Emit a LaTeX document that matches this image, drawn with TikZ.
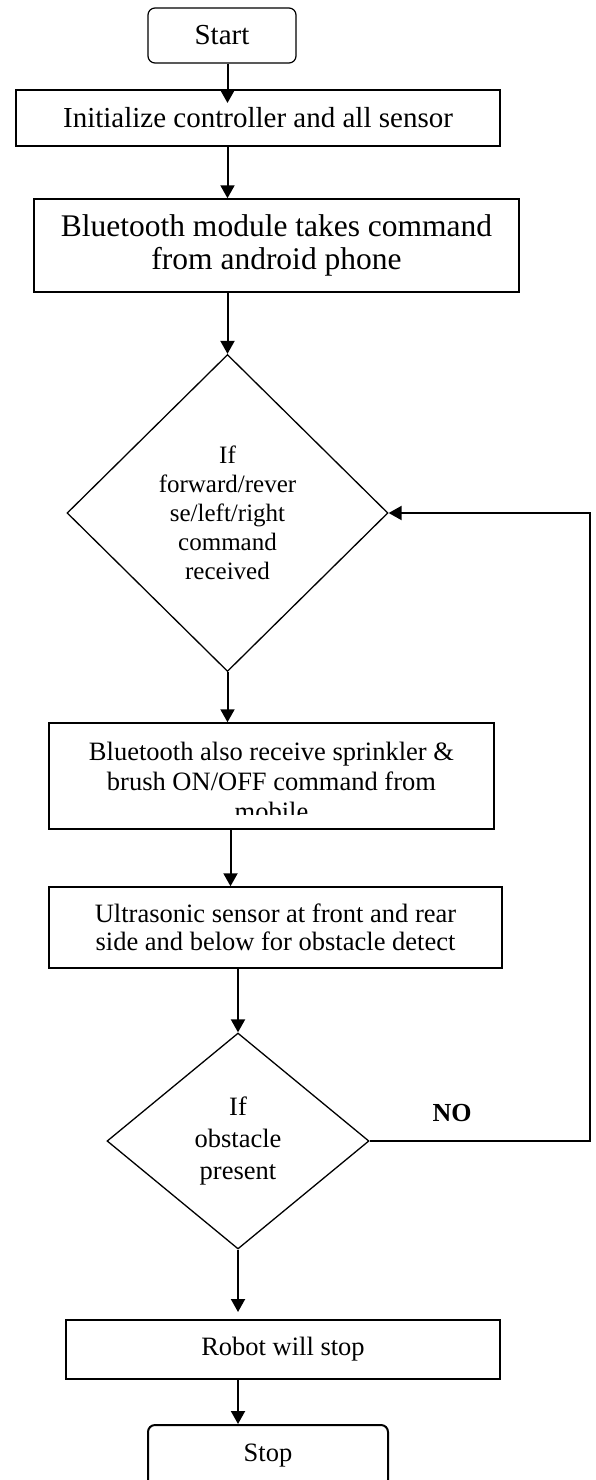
\documentclass[tikz,border=0pt]{standalone}
\usepackage{fontspec}
\setmainfont{Liberation Serif}
\usetikzlibrary{arrows.meta,shapes.geometric}
\begin{document}
\begin{tikzpicture}[x=1pt,y=-1pt,
  box/.style={draw,line width=1.5pt,inner sep=0pt,align=center},
  rbox/.style={box,rounded corners=7pt},
  dia/.style={draw,diamond,line width=1.3pt,inner sep=0pt,align=center},
  arr/.style={line width=2pt,-{Triangle[length=13pt,width=14pt]}},
  fA/.style={font=\fontsize{29}{33}\selectfont},
  fB/.style={font=\fontsize{31.5}{33}\selectfont},
  fC/.style={font=\fontsize{26.5}{30}\selectfont},
  fD/.style={font=\fontsize{25}{29}\selectfont}]
\useasboundingbox (0,0) rectangle (596,1480);
% nodes
\node[rbox,line width=1.2pt,minimum width=148pt,minimum height=55pt,fA] (start) at (222,35.5) {Start};
\node[box,line width=2pt,minimum width=484pt,minimum height=56pt,fA] (init) at (258,118) {Initialize controller and all sensor};
\node[box,minimum width=485pt,minimum height=93pt,fB] (bt) at (276.5,245.5) {Bluetooth module takes command\\from android phone};
\node[dia,minimum width=321pt,minimum height=317pt,fD] (d1) at (227.5,513) {If\\forward/rever\\se/left/right\\command\\received};
\node[box,minimum width=445pt,minimum height=106pt] (b3) at (271.5,776) {};
\begin{scope}
\clip (b3.north west) rectangle ([yshift=15pt]b3.south east);
\node[fC,align=center,inner sep=0pt] (b3t) at ([yshift=-5pt]b3.center) {Bluetooth also receive sprinkler \&\\brush ON/OFF command from\\mobile};
\end{scope}
\node[box,minimum width=453pt,minimum height=81pt,font=\fontsize{26.5}{28}\selectfont] (b4) at (275.5,927.5) {Ultrasonic sensor at front and rear\\side and below for obstacle detect};
\node[dia,minimum width=262pt,minimum height=216pt,font=\fontsize{26.5}{32}\selectfont] (d2) at (238,1141) {If\\obstacle\\present};
\node[box,line width=2pt,minimum width=434pt,minimum height=59pt,fC] (robot) at (283,1349.5) {Robot will stop};
\node[rbox,line width=2pt,minimum width=240pt,minimum height=62pt,fC] (stop) at (268,1456) {Stop};
\node[font=\fontsize{26}{29}\selectfont\bfseries] (no) at (452,1113) {NO};
\coordinate (lc) at (590,0);
% connectors
\draw[arr,shorten >=-14pt] (start.south -| d1.north) -- (init.north -| d1.north);
\draw[arr] (init.south -| d1.north) -- (bt.north -| d1.north);
\draw[arr] (bt.south -| d1.north) -- (d1.north);
\draw[arr] (d1.south) -- (b3.north -| d1.south);
\draw[arr] ([xshift=3pt]b3.south -| d1.south) -- ([xshift=3pt]b4.north -| d1.south);
\draw[arr] (b4.south -| d2.north) -- (d2.north);
\draw[arr,shorten >=7pt] (d2.south) -- (robot.north -| d2.south);
\draw[arr] (robot.south -| d2.south) -- (stop.north -| d2.south);
\draw[arr] (d2.east) -- (d2.east -| lc) -- (d1.east -| lc) -- (d1.east);
\end{tikzpicture}
\end{document}
